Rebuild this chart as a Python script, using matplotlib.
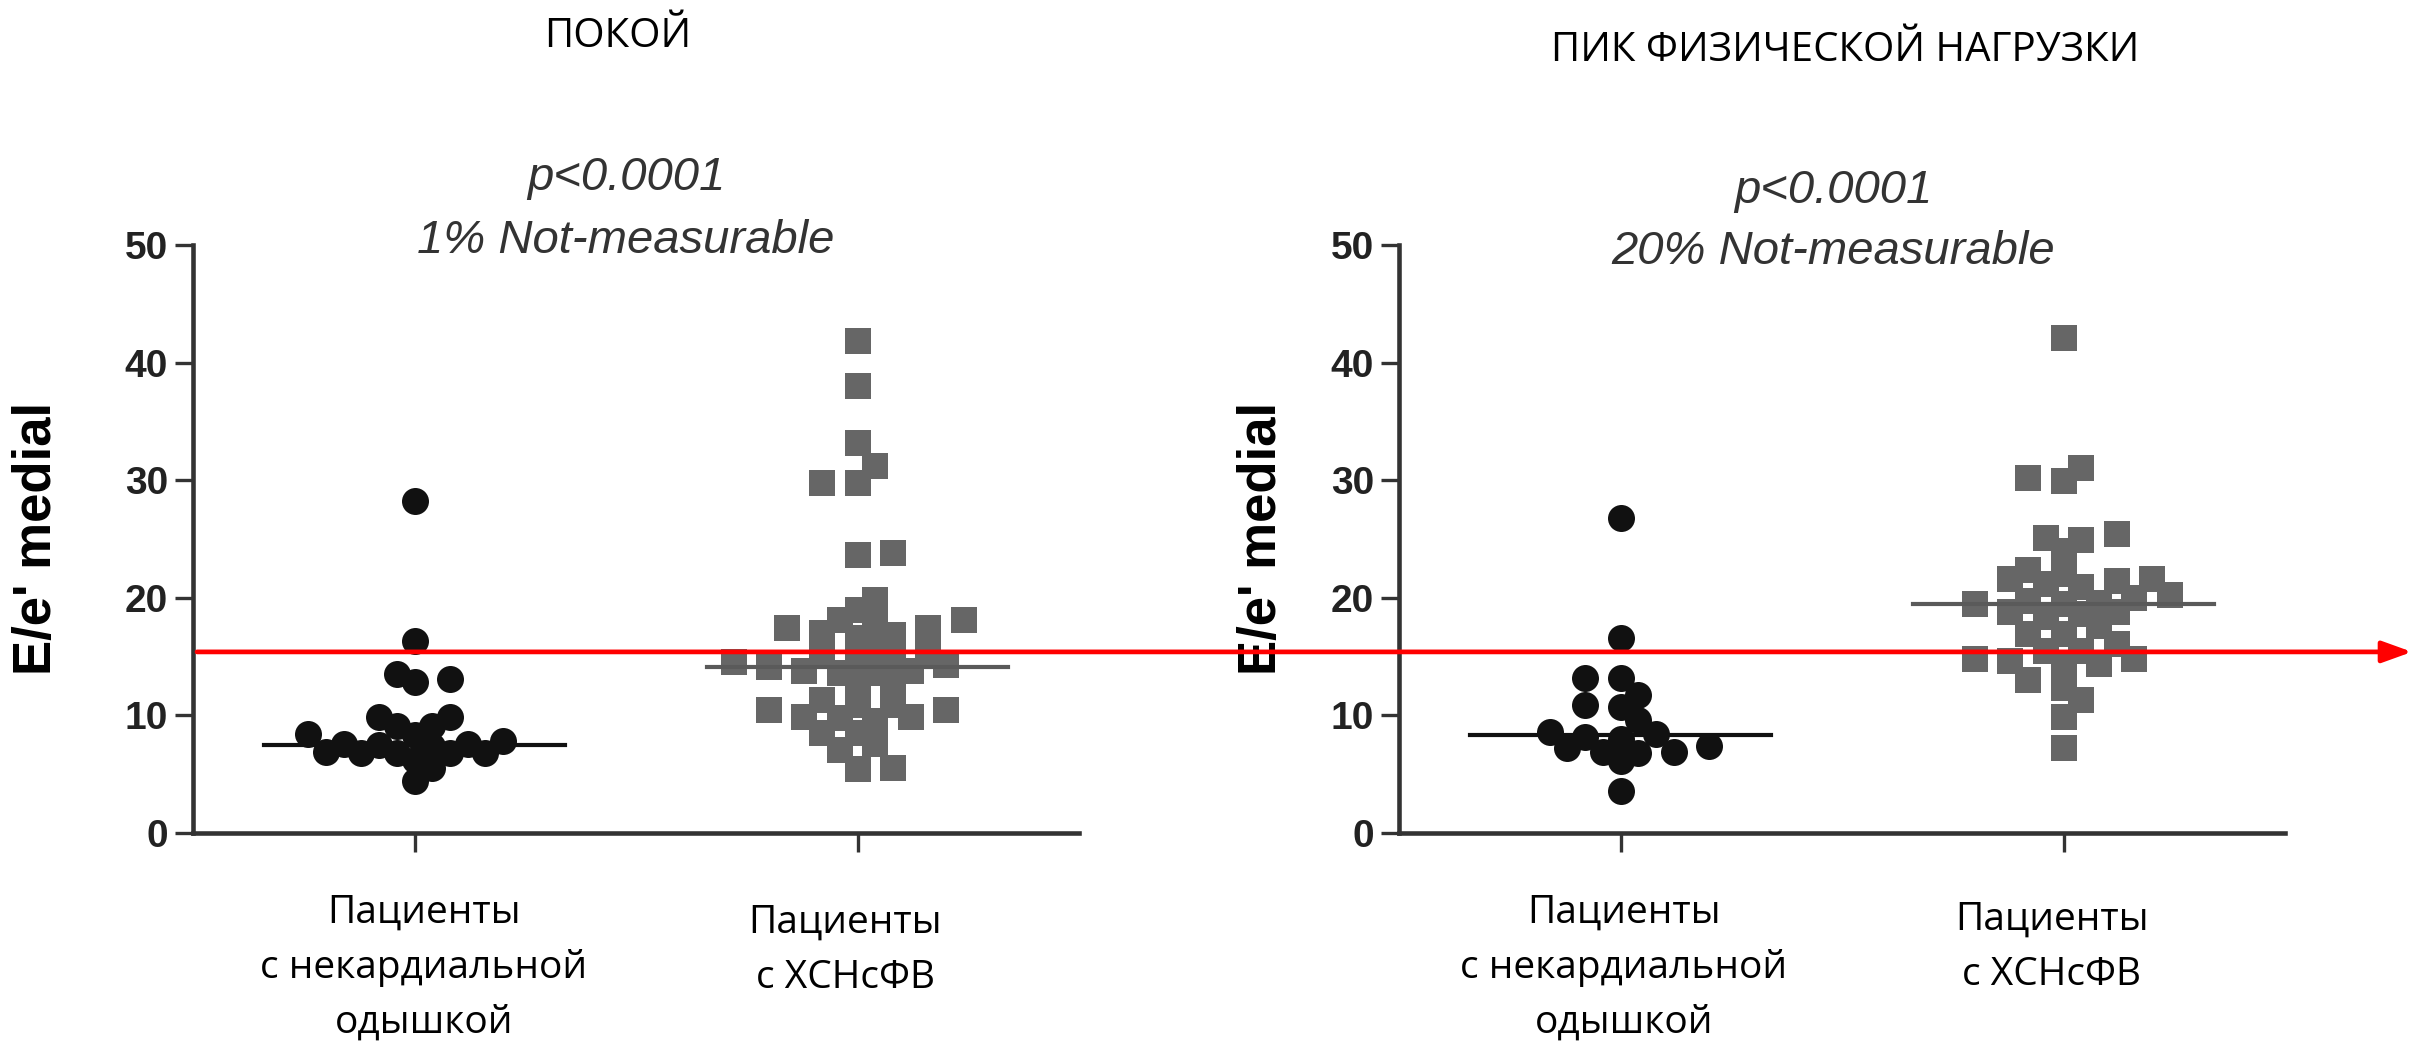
import numpy as np
import matplotlib
matplotlib.use("Agg")
import matplotlib.pyplot as plt
from matplotlib import font_manager as fm
from matplotlib.patches import FancyArrowPatch

# E/e' medial values
rest_noncardiac = [28.2, 16.3, 13.5, 12.8, 13.1, 9.9, 9.9, 9.1, 9.1, 8.4, 8.3, 6.8,
                   6.8, 6.2, 6.8, 6.8, 5.5, 4.4, 7.8, 7.4, 6.9, 7.6, 7.6, 7.5]
rest_hfpef = [41.8, 38.0, 33.2, 31.2, 29.8, 29.8, 23.8, 23.6, 19.8, 19.0, 18.1, 18.1,
              17.4, 17.0, 17.4, 17.6, 16.6, 16.8, 15.8, 15.2, 14.1, 13.6, 14.5, 13.6,
              14.7, 12.7, 14.5, 12.7, 14.3, 13.8, 15.2, 13.8, 11.3, 10.9, 10.5, 10.5,
              10.9, 9.9, 8.5, 7.6, 8.5, 9.5, 9.8, 9.9, 7.1, 5.4, 5.5]
peak_noncardiac = [26.8, 16.6, 13.2, 13.2, 11.7, 10.7, 10.9, 9.6, 8.0, 8.4, 8.6, 8.2,
                   7.2, 6.9, 6.8, 6.9, 6.1, 7.4, 3.6]
peak_hfpef = [42.1, 31.0, 29.9, 30.2, 25.4, 24.9, 24.0, 25.1, 22.4, 21.6, 21.6, 20.9,
              21.2, 21.4, 22.0, 19.5, 18.8, 20.2, 18.8, 19.7, 20.0, 18.6, 19.5, 19.6,
              18.4, 16.9, 16.9, 17.6, 16.1, 15.5, 14.4, 14.8, 14.4, 14.6, 13.0, 14.8,
              15.5, 12.3, 11.3, 9.9, 7.2]
medians_rest = [7.5, 14.1]
medians_peak = [8.3, 19.5]
cutoff = 15.4

panel_titles = ["ПОКОЙ", "ПИК ФИЗИЧЕСКОЙ НАГРУЗКИ"]
p_lines = [["p<0.0001", "1% Not-measurable"], ["p<0.0001", "20% Not-measurable"]]
group_labels = ["Пациенты\nс некардиальной\nодышкой", "Пациенты\nс ХСНсФВ"]
y_label = "E/e' medial"
y_ticks = [0, 10, 20, 30, 40, 50]

W, H = 2422, 1047
names = {f.name for f in fm.fontManager.ttflist}
label_font = "Open Sans" if "Open Sans" in names else "DejaVu Sans"
if "Liberation Sans Narrow" in names:
    tick_font, tick_size = "Liberation Sans Narrow", 31
else:
    tick_font, tick_size = "Liberation Sans", 28
arial = "Liberation Sans" if "Liberation Sans" in names else "DejaVu Sans"

fig = plt.figure(figsize=(W / 100, H / 100), dpi=100)


def px(x, y):
    return x / W, 1 - y / H


def swarm(ax, xc, vals, step, gap):
    # spread points sideways on a half-column grid so they do not pile up
    tr = ax.transData
    yp = tr.transform(np.column_stack([np.full(len(vals), xc), vals]))[:, 1]
    ppu = tr.transform((1, 0))[0] - tr.transform((0, 0))[0]
    placed = []
    slots = np.zeros(len(vals))
    flip = 1
    for i in np.argsort(vals):
        hit = None
        for k in range(0, 40):
            cands = [0] if k == 0 else [flip * k, -flip * k]
            for s in cands:
                if all(((s - s2) * step) ** 2 + (yp[i] - y2) ** 2 >= gap ** 2
                       for s2, y2 in placed):
                    hit = s
                    break
            if hit is not None:
                break
        placed.append((hit, yp[i]))
        slots[i] = hit
        if hit != 0:
            flip = -flip
    return xc + slots * step / ppu


def panel(left_px, groups, medians):
    ax = fig.add_axes([left_px / W, (H - 833) / H, 886 / W, 588 / H])
    ax.set_xlim(-0.5, 1.5)
    ax.set_ylim(0, 50)
    for s in ["top", "right"]:
        ax.spines[s].set_visible(False)
    for s in ["left", "bottom"]:
        ax.spines[s].set_linewidth(3.3)
        ax.spines[s].set_color("#333333")
    ax.set_yticks(y_ticks)
    ax.set_yticklabels([str(t) for t in y_ticks], fontfamily=tick_font,
                       fontweight="bold", fontsize=tick_size, color="#222222")
    ax.tick_params(axis="y", length=13, width=2.4, color="#333333", pad=5)
    ax.set_xticks([0, 1])
    ax.set_xticklabels([])
    ax.tick_params(axis="x", length=14, width=2.4, color="#333333")
    ms = 27 * 0.72
    xs = swarm(ax, 0, groups[0], 17.7, 19.0)
    ax.scatter(xs, groups[0], s=ms ** 2, marker="o", color="#111111",
               linewidths=0, zorder=3, clip_on=False)
    xs = swarm(ax, 1, groups[1], 17.7, 20.0)
    ax.scatter(xs, groups[1], s=ms ** 2, marker="s", color="#666666",
               linewidths=0, zorder=3, clip_on=False)
    ax.plot([-0.34, 0.34], [medians[0]] * 2, color="#111111", lw=3, zorder=4)
    ax.plot([0.66, 1.34], [medians[1]] * 2, color="#5a5a5a", lw=3, zorder=4)
    return ax


ax1 = panel(193, [rest_noncardiac, rest_hfpef], medians_rest)
ax2 = panel(1399, [peak_noncardiac, peak_hfpef], medians_peak)

# titles, p-values, y labels
fig.text(*px(618, 47), panel_titles[0], ha="center", va="baseline",
         fontfamily=label_font, fontsize=29)
fig.text(*px(1845, 61), panel_titles[1], ha="center", va="baseline",
         fontfamily=label_font, fontsize=29)
for cx, bases, lines in [(626, (190, 253), p_lines[0]), (1833, (203, 264), p_lines[1])]:
    for b, t in zip(bases, lines):
        fig.text(*px(cx, b), t, ha="center", va="baseline", fontfamily=arial,
                 style="italic", fontsize=34, color="#333333")
for x in (37, 1262):
    fig.text(*px(x, 538), y_label, rotation=90, ha="center", va="center",
             fontfamily=arial, fontweight="bold", fontsize=38)

# group labels under the x axis
label_pos = [(424, 923), (845, 933), (1624, 923), (2052, 930)]
for (cx, b0), lab in zip(label_pos, group_labels * 2):
    for j, line in enumerate(lab.split("\n")):
        fig.text(*px(cx, b0 + j * 55), line, ha="center", va="baseline",
                 fontfamily=label_font, fontsize=28)

# red cut-off arrow running across both panels
ya = ax1.transData.transform((-0.5, cutoff))
start = fig.transFigure.inverted().transform((ya[0] + 4, ya[1]))
end = fig.transFigure.inverted().transform((2412, ya[1]))
arrow = FancyArrowPatch(start, end, transform=fig.transFigure,
                        arrowstyle="-|>,head_length=18,head_width=6.5",
                        mutation_scale=1, color="#ff0000", lw=3.4,
                        shrinkA=0, shrinkB=0, zorder=10)
fig.add_artist(arrow)

fig.savefig("out.png", dpi=100)
